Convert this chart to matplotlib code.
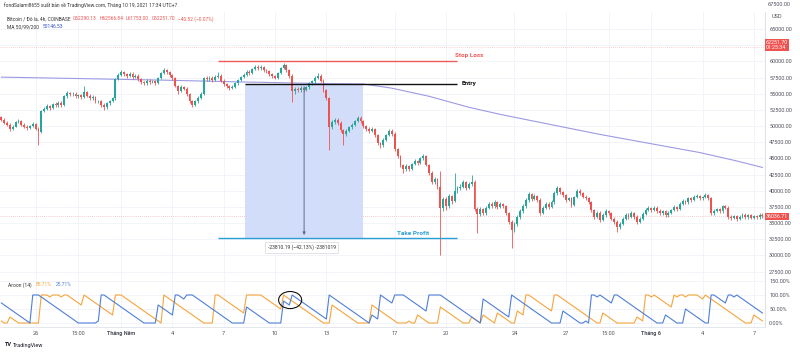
import matplotlib
matplotlib.use('Agg')
import matplotlib.pyplot as plt
import matplotlib.transforms as mtrans
from matplotlib.patches import Rectangle, Ellipse
import numpy as np
import pandas as pd

plt.rcParams['font.family'] = ['Roboto', 'DejaVu Sans']

# ---------------- data (prices in thousand USD, 4h bars) ----------------
opens_k = [
    51.4, 51.0, 50.5, 50.2, 49.6, 49.9, 50.6, 50.8, 50.2, 49.9,
    49.7, 50.0, 50.3, 49.6, 49.1, 52.3, 52.6, 53.1, 52.8, 53.4,
    53.2, 53.6, 53.3, 54.6, 55.1, 54.9, 55.0, 54.6, 54.8, 54.5,
    55.2, 54.7, 54.3, 54.5, 53.8, 53.9, 53.3, 52.9, 53.5, 53.9,
    54.3, 57.3, 57.9, 58.3, 58.0, 57.8, 58.1, 57.6, 57.8, 57.2,
    56.8, 56.6, 57.0, 56.8, 56.9, 56.7, 57.4, 58.2, 58.6, 58.3,
    57.9, 57.4, 56.2, 55.4, 56.0, 55.8, 54.9, 53.8, 53.3, 53.8,
    54.4, 55.0, 57.4, 57.2, 57.5, 57.1, 57.6, 57.8, 57.0, 56.5,
    56.2, 55.9, 56.1, 56.6, 57.1, 57.6, 57.9, 58.4, 58.2, 58.8,
    59.2, 58.9, 59.1, 58.6, 58.5, 58.0, 57.7, 57.5, 58.2, 59.0,
    59.4, 58.6, 57.8, 55.4, 55.8, 55.5, 55.9, 55.6, 56.0, 56.6,
    56.9, 57.5, 57.8, 57.0, 55.6, 54.3, 49.8, 50.6, 51.0, 50.5,
    49.4, 48.7, 49.3, 49.8, 50.2, 50.8, 51.3, 50.7, 50.0, 49.6,
    49.2, 49.5, 48.6, 47.4, 47.0, 47.9, 48.6, 49.3, 48.8, 46.4,
    45.3, 44.0, 43.3, 43.8, 43.4, 44.1, 44.6, 44.3, 45.0, 45.3,
    44.0, 42.8, 41.3, 41.8, 40.6, 37.3, 38.7, 37.6, 39.2, 38.4,
    39.9, 40.4, 40.6, 41.3, 40.4, 41.0, 41.4, 37.2, 36.4, 37.2,
    36.5, 37.3, 38.0, 37.6, 38.2, 37.5, 37.9, 37.6, 36.5, 35.2,
    34.0, 34.8, 35.9, 36.8, 37.6, 38.5, 39.5, 38.7, 39.2, 38.6,
    36.6, 37.4, 38.0, 37.5, 38.2, 39.6, 40.4, 39.8, 39.3, 38.6,
    38.8, 37.8, 39.0, 40.0, 39.6, 39.1, 38.9, 38.2, 37.0, 36.0,
    36.6, 35.5, 36.2, 36.8, 36.5, 35.7, 35.2, 34.4, 34.9, 35.6,
    36.3, 36.0, 36.5, 36.0, 35.2, 35.6, 36.4, 37.0, 37.3, 37.0,
    37.4, 36.9, 36.5, 36.8, 36.2, 36.6, 37.0, 37.5, 37.2, 38.0,
    38.4, 38.2, 38.9, 38.6, 39.0, 39.2, 38.8, 39.0, 39.3, 38.9,
    36.6, 36.9, 37.2, 36.8, 37.6, 37.4, 36.0, 35.8, 36.1, 35.6,
    36.0, 36.3, 35.9, 36.2, 35.8, 36.1, 35.9, 36.3]
highs_k = [
    51.6, 51.2, 50.7, 50.4, 50.1, 50.8, 51.1, 50.9, 50.4, 50.1,
    50.2, 50.6, 50.4, 49.8, 52.5, 52.9, 53.4, 53.3, 53.6, 53.7,
    53.9, 53.8, 54.8, 55.4, 55.3, 55.3, 55.2, 55.0, 55.0, 56.2,
    55.4, 54.9, 54.8, 54.6, 54.1, 54.0, 53.5, 53.7, 54.1, 54.5,
    57.5, 58.2, 58.6, 58.5, 58.2, 58.3, 58.3, 58.0, 58.0, 57.4,
    57.0, 57.2, 57.2, 57.1, 57.1, 57.6, 58.4, 59.0, 58.8, 58.5,
    58.1, 57.6, 56.4, 56.3, 56.2, 56.0, 55.1, 54.0, 54.0, 54.6,
    55.2, 57.6, 57.7, 57.8, 57.7, 57.9, 58.4, 58.0, 57.2, 56.7,
    56.4, 56.3, 56.8, 57.3, 57.8, 58.2, 58.6, 58.6, 59.0, 59.4,
    59.4, 59.4, 59.3, 58.8, 58.7, 58.2, 57.9, 58.4, 59.2, 59.7,
    59.6, 58.8, 58.0, 56.1, 56.0, 56.2, 56.1, 56.2, 56.8, 57.1,
    57.7, 58.2, 58.0, 57.2, 55.8, 54.5, 51.0, 51.3, 51.2, 50.7,
    49.6, 49.5, 50.0, 50.4, 51.0, 51.6, 51.5, 50.9, 50.2, 49.8,
    49.8, 49.7, 48.8, 47.6, 48.1, 48.8, 49.6, 49.5, 49.0, 46.6,
    45.5, 44.2, 44.1, 44.0, 44.3, 44.9, 44.8, 45.2, 45.6, 45.5,
    44.2, 43.0, 42.1, 42.0, 43.0, 39.0, 39.0, 39.5, 39.4, 42.8,
    40.7, 41.0, 41.6, 41.5, 41.3, 42.4, 41.6, 37.5, 37.5, 37.4,
    37.6, 38.3, 38.3, 38.5, 38.4, 38.2, 38.1, 37.8, 36.7, 35.4,
    35.1, 36.2, 37.1, 37.9, 38.8, 39.8, 39.7, 39.5, 39.4, 38.8,
    37.7, 38.3, 38.2, 38.5, 39.9, 40.7, 40.6, 40.0, 39.5, 39.1,
    39.0, 39.2, 40.3, 40.2, 39.8, 39.3, 39.1, 38.4, 37.2, 36.9,
    36.8, 36.5, 37.1, 37.0, 36.7, 35.9, 35.4, 35.2, 35.9, 36.6,
    36.5, 36.8, 36.7, 36.2, 35.9, 36.7, 37.3, 37.6, 37.5, 37.7,
    37.6, 37.1, 37.0, 37.0, 36.8, 37.2, 37.8, 37.7, 38.2, 38.7,
    38.6, 39.1, 39.1, 39.3, 39.5, 39.4, 39.2, 39.7, 39.5, 39.1,
    37.2, 37.4, 37.4, 37.8, 37.8, 37.6, 36.2, 36.3, 36.3, 36.2,
    36.5, 36.5, 36.4, 36.4, 36.3, 36.3, 36.5, 36.5]
lows_k = [
    50.8, 50.3, 50.0, 49.3, 49.4, 49.8, 50.4, 50.0, 49.7, 49.4,
    49.5, 49.8, 49.4, 47.0, 48.9, 52.1, 52.4, 52.5, 52.6, 52.9,
    53.0, 53.0, 53.1, 54.4, 54.6, 54.6, 54.3, 54.4, 54.2, 54.3,
    54.5, 54.0, 54.1, 53.5, 53.5, 53.0, 52.5, 52.7, 53.3, 53.7,
    54.1, 57.1, 57.7, 57.7, 57.5, 57.6, 57.3, 57.4, 57.0, 56.5,
    56.3, 56.4, 56.5, 56.6, 56.4, 56.5, 57.2, 58.0, 58.0, 57.6,
    57.1, 56.0, 55.0, 55.2, 55.5, 54.6, 53.5, 53.0, 53.1, 53.6,
    54.2, 54.8, 56.9, 57.0, 56.8, 56.9, 57.4, 56.8, 56.2, 55.9,
    55.6, 55.7, 55.9, 56.4, 56.9, 57.4, 57.7, 57.9, 58.0, 58.6,
    58.7, 58.7, 58.4, 58.2, 57.7, 57.4, 57.2, 57.3, 58.0, 58.8,
    58.4, 57.5, 53.7, 55.0, 55.2, 55.3, 55.3, 55.4, 55.8, 56.4,
    56.7, 57.3, 56.8, 55.3, 54.0, 46.3, 49.5, 50.3, 50.1, 49.1,
    47.0, 48.4, 49.1, 49.6, 50.0, 50.6, 50.4, 49.7, 49.3, 48.9,
    49.0, 48.3, 47.1, 46.6, 46.8, 47.7, 48.4, 48.5, 46.1, 45.0,
    43.6, 42.7, 43.0, 43.1, 43.2, 43.9, 44.0, 44.1, 44.8, 43.8,
    42.5, 41.0, 41.0, 40.3, 30.0, 36.8, 37.0, 37.3, 38.0, 38.2,
    39.6, 40.1, 40.4, 40.1, 40.2, 40.8, 36.9, 33.5, 36.1, 36.2,
    36.3, 37.1, 37.3, 37.4, 37.2, 37.3, 37.3, 36.2, 34.9, 31.2,
    33.6, 34.6, 35.7, 36.6, 37.4, 38.3, 38.4, 38.5, 38.3, 36.3,
    36.4, 37.2, 37.2, 37.3, 38.0, 39.4, 39.5, 39.0, 38.3, 38.4,
    37.5, 37.6, 38.8, 39.3, 38.8, 38.6, 37.9, 36.7, 35.7, 35.8,
    35.2, 35.3, 36.0, 36.2, 35.4, 34.9, 33.6, 34.1, 34.7, 35.4,
    35.7, 35.8, 35.7, 34.9, 35.0, 35.4, 36.2, 36.8, 36.7, 36.8,
    36.6, 36.2, 36.3, 35.9, 36.0, 36.4, 36.8, 36.9, 37.0, 37.8,
    37.9, 38.0, 38.3, 38.4, 38.8, 38.5, 38.6, 38.8, 38.6, 36.3,
    36.3, 36.7, 36.5, 36.6, 37.1, 35.7, 35.5, 35.6, 35.3, 35.4,
    35.8, 35.7, 35.7, 35.6, 35.6, 35.7, 35.7, 35.8]
closes_k = [
    51.0, 50.5, 50.2, 49.6, 49.9, 50.6, 50.8, 50.2, 49.9, 49.7,
    50.0, 50.3, 49.6, 49.1, 52.3, 52.6, 53.1, 52.8, 53.4, 53.2,
    53.6, 53.3, 54.6, 55.1, 54.9, 55.0, 54.6, 54.8, 54.5, 55.2,
    54.7, 54.3, 54.5, 53.8, 53.9, 53.3, 52.9, 53.5, 53.9, 54.3,
    57.3, 57.9, 58.3, 58.0, 57.8, 58.1, 57.6, 57.8, 57.2, 56.8,
    56.6, 57.0, 56.8, 56.9, 56.7, 57.4, 58.2, 58.6, 58.3, 57.9,
    57.4, 56.2, 55.4, 56.0, 55.8, 54.9, 53.8, 53.3, 53.8, 54.4,
    55.0, 57.4, 57.2, 57.5, 57.1, 57.6, 57.8, 57.0, 56.5, 56.2,
    55.9, 56.1, 56.6, 57.1, 57.6, 57.9, 58.4, 58.2, 58.8, 59.2,
    58.9, 59.1, 58.6, 58.5, 58.0, 57.7, 57.5, 58.2, 59.0, 59.4,
    58.6, 57.8, 55.4, 55.8, 55.5, 55.9, 55.6, 56.0, 56.6, 56.9,
    57.5, 57.8, 57.0, 55.6, 54.3, 49.8, 50.6, 51.0, 50.5, 49.4,
    48.7, 49.3, 49.8, 50.2, 50.8, 51.3, 50.7, 50.0, 49.6, 49.2,
    49.5, 48.6, 47.4, 47.0, 47.9, 48.6, 49.3, 48.8, 46.4, 45.3,
    44.0, 43.3, 43.8, 43.4, 44.1, 44.6, 44.3, 45.0, 45.3, 44.0,
    42.8, 41.3, 41.8, 40.6, 37.3, 38.7, 37.6, 39.2, 38.4, 39.9,
    40.4, 40.6, 41.3, 40.4, 41.0, 41.4, 37.2, 36.4, 37.2, 36.5,
    37.3, 38.0, 37.6, 38.2, 37.5, 37.9, 37.6, 36.5, 35.2, 34.0,
    34.8, 35.9, 36.8, 37.6, 38.5, 39.5, 38.7, 39.2, 38.6, 36.6,
    37.4, 38.0, 37.5, 38.2, 39.6, 40.4, 39.8, 39.3, 38.6, 38.8,
    37.8, 39.0, 40.0, 39.6, 39.1, 38.9, 38.2, 37.0, 36.0, 36.6,
    35.5, 36.2, 36.8, 36.5, 35.7, 35.2, 34.4, 34.9, 35.6, 36.3,
    36.0, 36.5, 36.0, 35.2, 35.6, 36.4, 37.0, 37.3, 37.0, 37.4,
    36.9, 36.5, 36.8, 36.2, 36.6, 37.0, 37.5, 37.2, 38.0, 38.4,
    38.2, 38.9, 38.6, 39.0, 39.2, 38.8, 39.0, 39.3, 38.9, 36.6,
    36.9, 37.2, 36.8, 37.6, 37.4, 36.0, 35.8, 36.1, 35.6, 36.0,
    36.3, 35.9, 36.2, 35.8, 36.1, 35.9, 36.3, 36.04]
first_bar = '2021-04-24 03:00'

# MA 200 read at a few bars
ma200_bars = [0, 56, 86, 115, 127, 137, 150, 164, 175, 210, 245, 257, 267]
ma200_k = [57.56, 57.1, 56.8, 56.55, 56.5, 55.85, 54.6, 52.9, 51.8, 48.7, 45.9, 44.7, 43.6]

# Aroon(14): first 14 values, the rest computed
aroon_len = 14
aroon_up_first = [7.14, 0, 0, 21.43, 14.29, 7.14, 0, 0, 0, 0, 0, 0, 0, 0]
aroon_down_first = [71.43, 64.29, 57.14, 50.0, 42.86, 35.71, 28.57, 21.43, 14.29, 7.14, 0, 100, 100, 100]

tick_dates = ['2021-04-26 03:00', '2021-04-28 15:00', '2021-05-01 03:00', '2021-05-04 03:00',
              '2021-05-07 03:00', '2021-05-10 03:00', '2021-05-13 03:00', '2021-05-17 03:00',
              '2021-05-20 03:00', '2021-05-24 03:00', '2021-05-27 03:00', '2021-05-29 15:00',
              '2021-06-01 03:00', '2021-06-04 03:00', '2021-06-07 03:00']
tick_labels = ['26', '15:00', 'Tháng Năm', '4', '7', '10', '13', '17', '20', '24', '27',
               '15:00', 'Tháng 6', '4', '7']
bold_labels = ['Tháng Năm', 'Tháng 6']

price_ticks = [27500, 30000, 32500, 35000, 37500, 40000, 42500, 45000, 47500, 50000,
               52500, 55000, 57500, 60000, 62500, 65000]
hidden_price_labels = [62500]
aroon_ticks = [0, 50, 100, 150]

legend_ohlc = ['O62290.13', 'H62566.84', 'L61753.00', 'C62251.70', '\u221240.52 (\u22120.07%)']

# trade drawing
entry_price = 56516.19
stop_price = 60050.0
tp_price = 32706.0
levels_bars = (76.0, 159.9)
entry_start_bar = 85.5
box_bars = (85.5, 126.9)
arrow_bar = 106.2
measure_text = '-23810.19 (\u221242.13%) -2381019'
last_price = 36036.71
live_price = 62251.70

# ---------------- figure ----------------
W, H = 800, 354
fig = plt.figure(figsize=(W / 100, H / 100), dpi=100)
fig.patch.set_facecolor('white')
cw = 765 / W
ax = fig.add_axes([0, 1 - 274 / H, cw, 262 / H])
axa = fig.add_axes([0, 1 - 327 / H, cw, 53 / H], sharex=ax)

opens = np.array(opens_k) * 1000
highs = np.array(highs_k) * 1000
lows = np.array(lows_k) * 1000
closes = np.array(closes_k) * 1000
n = len(closes)
idx = np.arange(n)
dates = pd.date_range(first_bar, periods=n, freq='4h')

UP, DN = '#26a69a', '#ef5350'
cols = np.where(closes >= opens, UP, DN)
ax.vlines(idx, lows, highs, colors=cols, lw=0.6, zorder=3)
body = np.maximum(np.abs(closes - opens), 60)
ax.bar(idx, body, bottom=np.minimum(opens, closes), width=0.66, color=cols, lw=0, zorder=3)

ax.plot(ma200_bars, np.array(ma200_k) * 1000, color='#9d9ae4', lw=0.8, zorder=2)

ax.set_xlim(-0.49, 267.9)
ax.set_ylim(27123, 67628)

grid_c = '#f0f3fa'
for a in (ax, axa):
    a.set_axisbelow(True)
ax.set_yticks(price_ticks)
ax.set_yticklabels(['' if v in hidden_price_labels else f'{v:.2f}' for v in price_ticks])
ax.grid(axis='y', color=grid_c, lw=0.6)
tick_pos = dates.get_indexer(pd.to_datetime(tick_dates))
for t in tick_pos:
    ax.axvline(t, color=grid_c, lw=0.6, zorder=0.1)
    axa.axvline(t, color=grid_c, lw=0.6, zorder=0.1)

for a in (ax, axa):
    for s in ('top', 'left'):
        a.spines[s].set_visible(False)
    a.spines['right'].set_color('#d9dce3')
    a.spines['right'].set_linewidth(0.6)
    a.spines['bottom'].set_color('#e0e3eb')
    a.spines['bottom'].set_linewidth(0.6)
    a.tick_params(axis='y', left=False, labelleft=False, right=False, labelright=True,
                  length=0, pad=3, labelsize=4, labelcolor='#50535e')
ax.tick_params(axis='x', bottom=False, labelbottom=False)

# dotted price lines
ax.axhline(live_price, color='#ef5350', lw=0.5, ls=(0, (1, 2)), alpha=0.5, zorder=1)
ax.axhline(last_price, color='#ef5350', lw=0.5, ls=(0, (1, 2)), alpha=0.6, zorder=1)

# trade box
ax.add_patch(Rectangle((box_bars[0], tp_price), box_bars[1] - box_bars[0], entry_price - tp_price,
                       facecolor='#d2ddf9', edgecolor='none', zorder=1))
ax.hlines(stop_price, levels_bars[0], levels_bars[1], color='#f05a5a', lw=1.0, zorder=4)
ax.hlines(entry_price, entry_start_bar, levels_bars[1], color='#111111', lw=1.0, zorder=4)
ax.hlines(tp_price, levels_bars[0], levels_bars[1], color='#2a9fd6', lw=1.0, zorder=4)
ax.annotate('', xy=(arrow_bar, tp_price), xytext=(arrow_bar, entry_price),
            arrowprops=dict(arrowstyle='-|>', color='#5a6d96', lw=0.7, mutation_scale=4), zorder=4)
ax.text(levels_bars[1] - 0.6, stop_price + 500, 'Stop Loss', color='#f05a5a', fontsize=4.6,
        fontweight='bold', ha='left', va='bottom', zorder=5)
ax.text(levels_bars[1] + 1.6, entry_price, 'Entry', color='#111111', fontsize=4.6,
        fontweight='bold', ha='left', va='center', zorder=5)
ax.text(144.4, tp_price + 350, 'Take Profit', color='#2a9fd6', fontsize=4.6,
        fontweight='bold', ha='center', va='bottom', zorder=5)
ax.text(arrow_bar - 0.8, tp_price - 1450, measure_text, color='#333333', fontsize=3.6,
        ha='center', va='center', zorder=5,
        bbox=dict(boxstyle='square,pad=0.5', fc='white', ec='#d0d0d0', lw=0.4))

# axis tags
trans = mtrans.blended_transform_factory(ax.transAxes, ax.transData)
ax.text(1.0 + 1 / 765, last_price, f'{last_price:.2f}', transform=trans, ha='left', va='center',
        fontsize=3.8, color='white', zorder=6, clip_on=False,
        bbox=dict(boxstyle='square,pad=0.25', fc='#ef5350', ec='none'))
ax.text(1.0 + 1 / 765, live_price + 300, f'{live_price:.2f}\n01:25:34', transform=trans, ha='left',
        va='center', fontsize=3.8, color='white', zorder=6, clip_on=False, linespacing=1.0,
        bbox=dict(boxstyle='square,pad=0.25', fc='#ef5350', ec='none'))

# ---------------- Aroon ----------------
aup = np.zeros(n)
adn = np.zeros(n)
for i in range(n):
    if i < aroon_len:
        aup[i] = aroon_up_first[i]
        adn[i] = aroon_down_first[i]
    else:
        wh = highs[i - aroon_len:i + 1]
        wl = lows[i - aroon_len:i + 1]
        jh = aroon_len - int(np.argmax(wh[::-1]))
        jl = aroon_len - int(np.argmin(wl[::-1]))
        aup[i] = 100.0 * jh / aroon_len
        adn[i] = 100.0 * jl / aroon_len
axa.plot(idx, aup, color='#f5a53c', lw=0.8, zorder=3)
axa.plot(idx, adn, color='#4f7fd6', lw=0.8, zorder=3)
axa.set_ylim(-14.3, 175)
axa.set_yticks(aroon_ticks)
axa.set_yticklabels([f'{v:.2f}%' for v in aroon_ticks])
axa.grid(axis='y', color=grid_c, lw=0.6)
axa.add_patch(Ellipse((101.3, 82), 8.1, 61, fill=False, ec='#111111', lw=0.8, zorder=5))

axa.set_xticks(tick_pos)
axa.set_xticklabels(tick_labels)
axa.tick_params(axis='x', length=0, pad=3, labelsize=4, labelcolor='#50535e')
for lab in axa.get_xticklabels():
    if lab.get_text() in bold_labels:
        lab.set_fontweight('bold')

# ---------------- texts ----------------
def ftext(px, py, s, **kw):
    return fig.text(px / W, 1 - py / H, s, va='center', ha='left', **kw)

renderer = fig.canvas.get_renderer()

def row(px, py, items, fs, gap=2.5):
    x = px
    for s, c in items:
        t = ftext(x, py, s, fontsize=fs, color=c)
        x += t.get_window_extent(renderer).width + gap

fs = 3.5
ftext(4, 5, 'fondSalami8655 xuất bản về TradingView.com, Tháng 10 19, 2021 17:34 UTC+7',
      fontsize=fs, color='#333333')
row(7, 19, [('Bitcoin / Đô la, 4h, COINBASE', '#333333')] + [(s, '#ef5350') for s in legend_ohlc], fs)
row(7, 27, [('MA 50/99/200', '#333333'), ('50146.53', '#2f4fd0')], fs, gap=4)
row(8, 285, [('Aroon (14)', '#333333'), ('85.71%', '#f5a53c'), ('25.71%', '#4f7fd6')], fs, gap=4)
ftext(768, 4, '67500.00', fontsize=4, color='#50535e')
ftext(772, 17, 'USD', fontsize=4, color='#50535e')
ftext(5, 345, 'TV', fontsize=4, color='#131722', fontweight='bold')
ftext(13, 345, 'TradingView', fontsize=4, color='#131722')

fig.savefig('out.png', dpi=100, facecolor='white')
